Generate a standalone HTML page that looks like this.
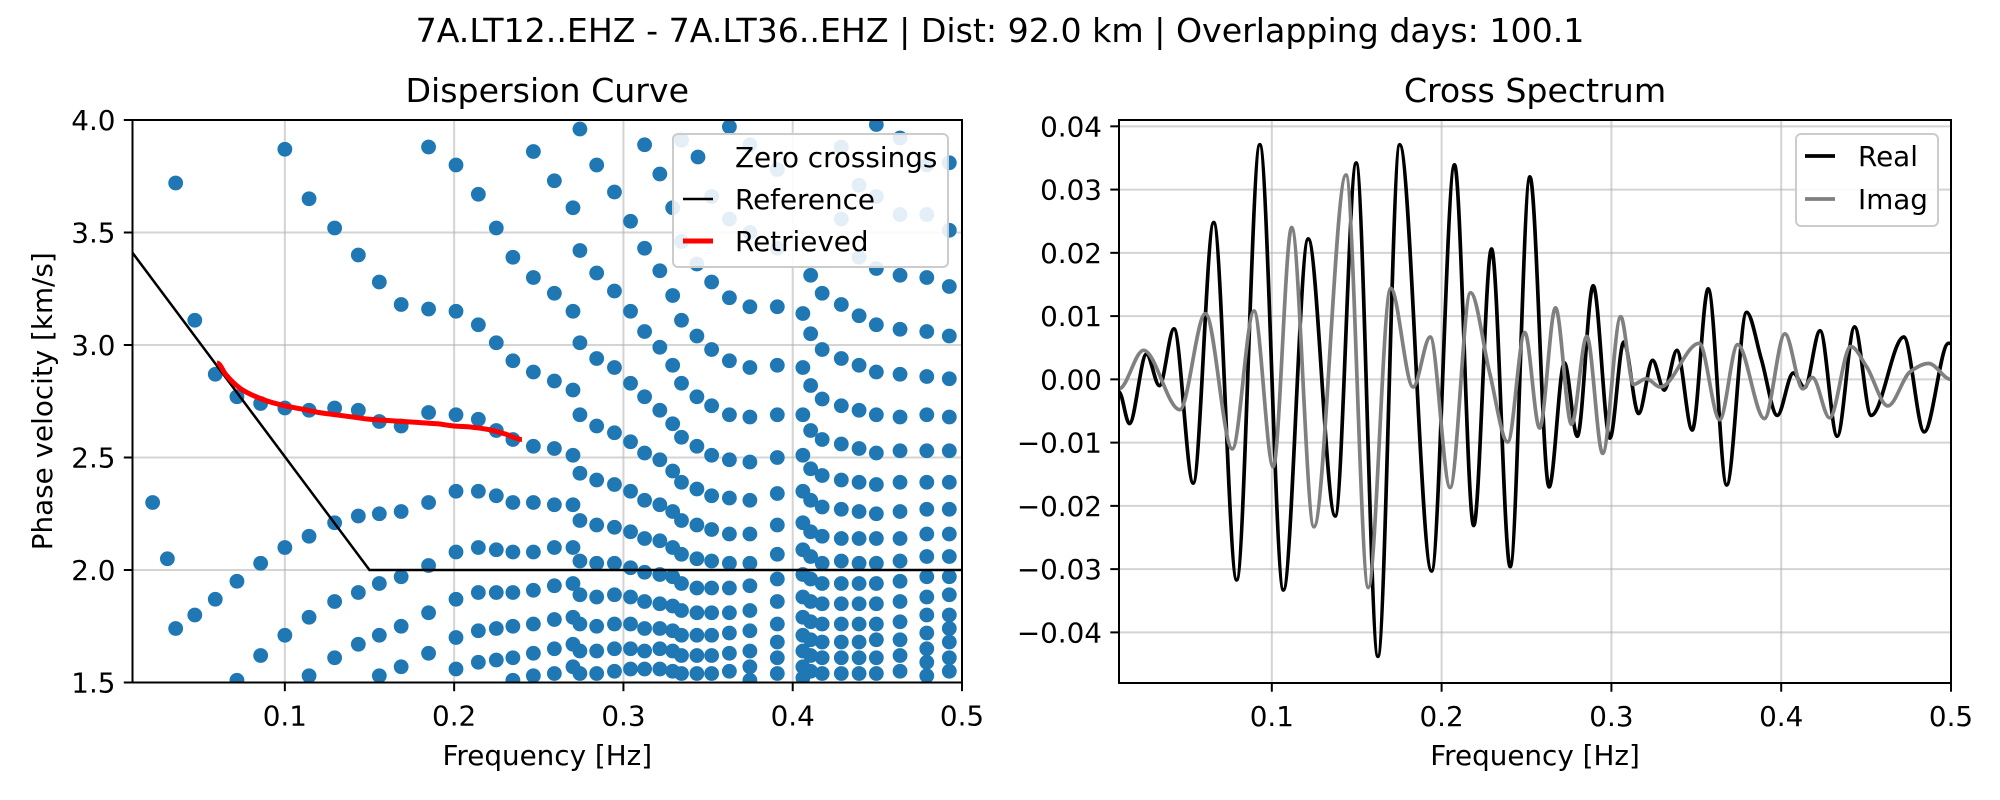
<!DOCTYPE html>
<html><head><meta charset="utf-8"><style>
html,body{margin:0;padding:0;background:#fff;}
svg{display:block;font-family:"DejaVu Sans","Liberation Sans",sans-serif;}
</style></head><body>
<svg id="fig" width="2000" height="800" viewBox="0 0 2000 800" xmlns="http://www.w3.org/2000/svg">
<rect width="2000" height="800" fill="#fff"/>
<text x="1000" y="42" font-size="33.2" text-anchor="middle">7A.LT12..EHZ - 7A.LT36..EHZ | Dist: 92.0 km | Overlapping days: 100.1</text>
<g id="left"></g>
<g id="right"></g>
</svg>
<script>
// ---------- Dispersion data ----------
const zcFreqs = [0.0219,0.0306,0.0355,0.0468,0.0589,0.0717,0.0857,0.1,0.1143,0.1294,0.1434,0.1558,0.1687,0.1849,0.2011,0.2143,0.2249,0.2347,0.2468,0.2592,0.2702,0.2743,0.2842,0.2947,0.3042,0.3125,0.3215,0.3291,0.3343,0.3434,0.3521,0.3626,0.3747,0.3909,0.4060,0.4106,0.4174,0.4287,0.4392,0.4494,0.4634,0.4792,0.4925];
const zcVels = [
[2.30],[2.05],[3.72,1.74],[3.11,1.80],[2.87,1.87],[2.77,1.95,1.51],[2.74,2.03,1.62],
[3.87,2.72,2.10,1.71],[3.65,2.71,2.15,1.79,1.53],[3.52,2.72,2.21,1.86,1.61],[3.40,2.71,2.24,1.90,1.67],
[3.28,2.66,2.25,1.94,1.71,1.53],[3.18,2.64,2.26,1.97,1.75,1.57],[3.88,3.16,2.70,2.30,2.02,1.81,1.63],
[3.80,3.15,2.69,2.35,2.08,1.87,1.70,1.56],[3.67,3.09,2.67,2.35,2.10,1.90,1.73,1.59],
[3.52,3.01,2.62,2.33,2.09,1.90,1.74,1.60],[3.39,2.93,2.58,2.30,2.08,1.90,1.75,1.61,1.51],
[3.86,3.30,2.88,2.55,2.30,2.08,1.91,1.76,1.63,1.53],[3.73,3.23,2.84,2.54,2.29,2.10,1.93,1.78,1.65,1.54],
[3.61,3.15,2.80,2.51,2.29,2.10,1.94,1.79,1.67,1.57],[3.96,3.42,3.01,2.69,2.43,2.22,2.04,1.89,1.76,1.64,1.54],
[3.80,3.32,2.94,2.64,2.40,2.20,2.03,1.88,1.75,1.64,1.54],[3.68,3.24,2.90,2.61,2.38,2.19,2.03,1.89,1.76,1.65,1.55],
[3.55,3.15,2.83,2.57,2.35,2.17,2.01,1.88,1.76,1.65,1.56],[3.89,3.43,3.06,2.77,2.52,2.31,2.14,1.99,1.86,1.74,1.64,1.56],
[3.76,3.33,2.99,2.71,2.49,2.29,2.13,1.98,1.85,1.74,1.65,1.56],[3.61,3.22,2.91,2.65,2.44,2.26,2.10,1.97,1.84,1.73,1.64,1.55],
[3.91,3.46,3.11,2.83,2.59,2.39,2.22,2.07,1.94,1.82,1.71,1.62,1.54],[3.36,3.04,2.77,2.55,2.36,2.20,2.05,1.92,1.81,1.71,1.62,1.54],
[3.66,3.28,2.98,2.73,2.51,2.33,2.18,2.04,1.92,1.81,1.71,1.62,1.54],[3.97,3.56,3.21,2.93,2.69,2.49,2.32,2.16,2.03,1.92,1.81,1.72,1.63,1.55],
[3.89,3.50,3.17,2.90,2.68,2.48,2.31,2.16,2.03,1.93,1.82,1.73,1.64,1.57,1.51],[3.78,3.43,3.17,2.91,2.69,2.50,2.34,2.20,2.07,1.96,1.86,1.76,1.68,1.61,1.54],
[3.14,2.90,2.69,2.51,2.35,2.21,2.09,1.98,1.88,1.79,1.71,1.64,1.57,1.52],[3.31,3.05,2.82,2.62,2.45,2.31,2.17,2.06,1.96,1.86,1.77,1.69,1.62,1.55],
[3.23,2.98,2.76,2.58,2.42,2.28,2.15,2.03,1.94,1.85,1.76,1.68,1.61,1.54],[3.88,3.56,3.18,2.94,2.73,2.56,2.40,2.27,2.14,2.04,1.94,1.85,1.76,1.68,1.61,1.54],
[3.71,3.39,3.13,2.91,2.71,2.54,2.39,2.26,2.14,2.03,1.94,1.85,1.76,1.68,1.61,1.54],[3.98,3.66,3.34,3.09,2.88,2.69,2.52,2.38,2.25,2.14,2.03,1.94,1.85,1.76,1.69,1.61,1.54],
[3.92,3.58,3.31,3.07,2.87,2.68,2.53,2.39,2.26,2.14,2.04,1.95,1.86,1.77,1.69,1.62,1.55],[3.80,3.58,3.30,3.06,2.86,2.69,2.53,2.39,2.27,2.16,2.06,1.97,1.88,1.80,1.72,1.65,1.59,1.53],
[3.81,3.51,3.26,3.04,2.85,2.68,2.53,2.39,2.27,2.16,2.06,1.97,1.89,1.80,1.74,1.68,1.61,1.55]];
const refFreqs = [0.01, 0.15, 0.5];
const refVels = [3.41, 2.0, 2.0];
const retFreqs = [0.060,0.065,0.070,0.075,0.080,0.090,0.100,0.110,0.120,0.130,0.140,0.150,0.160,0.170,0.180,0.190,0.200,0.210,0.220,0.230,0.240];
const retVels = [2.92,2.87,2.83,2.80,2.78,2.75,2.73,2.715,2.70,2.69,2.68,2.67,2.665,2.66,2.655,2.65,2.64,2.635,2.625,2.605,2.58];
const leftXTicks = [0.1,0.2,0.3,0.4,0.5];
const leftXTickLabels = ["0.1","0.2","0.3","0.4","0.5"];
const leftYTicks = [1.5,2.0,2.5,3.0,3.5,4.0];
const leftYTickLabels = ["1.5","2.0","2.5","3.0","3.5","4.0"];

// ---------- Cross spectrum data ----------
const realFreqs = [0.01,0.0161,0.0262,0.0338,0.0424,0.0537,0.0658,0.0793,0.0929,0.1068,0.1214,0.1373,0.1497,0.1625,0.1753,0.1941,0.2076,0.2189,0.2294,0.2404,0.2520,0.2633,0.2723,0.2799,0.2893,0.2991,0.3073,0.3160,0.3243,0.3311,0.3386,0.3476,0.3570,0.3679,0.3796,0.3883,0.3977,0.4071,0.4138,0.4229,0.4330,0.4432,0.4530,0.4722,0.4842,0.4985,0.5];
const realVals = [-0.002,-0.007,0.004,-0.001,0.008,-0.0164,0.0248,-0.0317,0.0371,-0.0333,0.0222,-0.0216,0.0342,-0.0438,0.0371,-0.0303,0.0339,-0.0231,0.0206,-0.0296,0.032,-0.017,0.0026,-0.009,0.0148,-0.0093,0.0059,-0.0054,0.003,-0.0017,0.0046,-0.008,0.0143,-0.0167,0.0106,0.0032,-0.0057,0.001,-0.0013,0.0077,-0.009,0.0083,-0.0057,0.0067,-0.0083,0.0057,0.0057];
const imagFreqs = [0.01,0.0244,0.0458,0.0609,0.0767,0.0895,0.1008,0.1117,0.1248,0.1437,0.1568,0.1700,0.1832,0.1933,0.2050,0.2170,0.2283,0.2389,0.2490,0.2577,0.2671,0.2765,0.2855,0.2949,0.3055,0.3130,0.3205,0.3288,0.3517,0.3638,0.3743,0.3901,0.4022,0.4127,0.4184,0.4285,0.4409,0.4503,0.4628,0.4759,0.4868,0.5];
const imagVals = [-0.0015,0.0046,-0.0048,0.0104,-0.011,0.0108,-0.0138,0.024,-0.0233,0.0323,-0.0329,0.0144,-0.0012,0.0067,-0.0171,0.0137,0.001,-0.0099,0.0074,-0.0077,0.0113,-0.0071,0.0068,-0.0117,0.0099,-0.0008,0.0001,-0.0012,0.0057,-0.0064,0.0055,-0.0062,0.0072,-0.0015,0.0003,-0.0061,0.0052,0.0020,-0.0042,0.0012,0.0025,0.0];
const rightXTicks = [0.1,0.2,0.3,0.4,0.5];
const rightXTickLabels = ["0.1","0.2","0.3","0.4","0.5"];
const rightYTicks = [-0.04,-0.03,-0.02,-0.01,0,0.01,0.02,0.03,0.04];
const rightYTickLabels = ["\u22120.04","\u22120.03","\u22120.02","\u22120.01","0.00","0.01","0.02","0.03","0.04"];

const NS = "http://www.w3.org/2000/svg";
const FS = 27.8, TFS = 33.2;
function mk(parent, tag, attrs, text) {
  const e = document.createElementNS(NS, tag);
  for (const k in attrs) e.setAttribute(k, attrs[k]);
  if (text !== undefined) e.textContent = text;
  parent.appendChild(e);
  return e;
}
function lin(d0, d1, r0, r1) { return v => r0 + (v - d0) / (d1 - d0) * (r1 - r0); }

function smoothPath(fx, fy, xs, ys) {
  const n = fx.length, X = fx.map(xs), Y = fy.map(ys), m = [];
  for (let i = 0; i < n; i++) {
    if (i === 0 || i === n-1) { m.push(0); continue; }
    const d0 = (Y[i]-Y[i-1])/(X[i]-X[i-1]), d1 = (Y[i+1]-Y[i])/(X[i+1]-X[i]);
    m.push(d0*d1 <= 0 ? 0 : 2/(1/d0+1/d1));
  }
  let d = "M" + X[0].toFixed(1) + "," + Y[0].toFixed(1);
  for (let i = 0; i < n-1; i++) {
    const h = (X[i+1]-X[i])/3;
    d += " C" + (X[i]+h).toFixed(1) + "," + (Y[i]+m[i]*h).toFixed(1) + " " + (X[i+1]-h).toFixed(1) + "," + (Y[i+1]-m[i+1]*h).toFixed(1) + " " + X[i+1].toFixed(1) + "," + Y[i+1].toFixed(1);
  }
  return d;
}

function axesFrame(g, L, R, T, B, xs, ys, xt, yt, prefix) {
  for (let i = 0; i < xt.length; i++) {
    const x = xs(xt[i]);
    const gl = mk(g, "line", {x1:x, x2:x, y1:T, y2:B, stroke:"#b0b0b0", "stroke-opacity":"0.55", "stroke-width":2});
    
    
  }
  for (let i = 0; i < yt.length; i++) {
    const y = ys(yt[i]);
    const gl = mk(g, "line", {x1:L, x2:R, y1:y, y2:y, stroke:"#b0b0b0", "stroke-opacity":"0.55", "stroke-width":2});
    
    
  }
}
function axesDecor(g, L, R, T, B, xs, ys, xt, xtl, yt, ytl, titleText, xlabel, ylabel, prefix, ylabX) {
  const fr = mk(g, "rect", {x:L, y:T, width:R-L, height:B-T, fill:"none", stroke:"#000", "stroke-width":2});
  
  
  for (let i = 0; i < xt.length; i++) {
    const x = xs(xt[i]);
    const tk = mk(g, "line", {x1:x, x2:x, y1:B, y2:B+8.7, stroke:"#000", "stroke-width":2});
    
    
    const tl = mk(g, "text", {x:x, y:B+43, "font-size":FS, "text-anchor":"middle"}, xtl[i]);
    
    
  }
  for (let i = 0; i < yt.length; i++) {
    const y = ys(yt[i]);
    const tk = mk(g, "line", {x1:L-8.7, x2:L, y1:y, y2:y, stroke:"#000", "stroke-width":2});
    
    
    const tl = mk(g, "text", {x:L-17, y:y+10, "font-size":FS, "text-anchor":"end"}, ytl[i]);
    
    
  }
  const t = mk(g, "text", {x:(L+R)/2, y:102, "font-size":TFS, "text-anchor":"middle"}, titleText);
  
  
  const xl = mk(g, "text", {x:(L+R)/2, y:765, "font-size":FS, "text-anchor":"middle"}, xlabel);
  
  
  if (ylabel) {
    const cy = (T+B)/2;
    const yl = mk(g, "text", {x:ylabX, y:cy, "font-size":FS, "text-anchor":"middle", transform:"rotate(-90 "+ylabX+" "+cy+")"}, ylabel);
    
    
  }
}

// ---------- Left panel ----------
(function(){
  const g = document.getElementById("left");
  const L = 132.5, R = 962, T = 120, B = 682.5;
  const xs = lin(0.01, 0.5, L, R), ys = lin(1.5, 4.0, B, T);
  axesFrame(g, L, R, T, B, xs, ys, leftXTicks, leftYTicks, "disp");
  const clip = mk(g, "clipPath", {id:"clipL"});
  mk(clip, "rect", {x:L, y:T, width:R-L, height:B-T});
  const dots = mk(g, "g", {"clip-path":"url(#clipL)"});
  
  
  for (let i = 0; i < zcFreqs.length; i++) {
    for (let j = 0; j < zcVels[i].length; j++) {
      const c = mk(dots, "circle", {cx:xs(zcFreqs[i]), cy:ys(zcVels[i][j]), r:7.4, fill:"#1f77b4"});
      
      
    }
  }
  const ref = mk(g, "polyline", {points: refFreqs.map((f,i)=>xs(f)+","+ys(refVels[i])).join(" "), fill:"none", stroke:"#000", "stroke-width":2.5, "clip-path":"url(#clipL)"});
  
  
  const ret = mk(g, "path", {d: smoothPath(retFreqs, retVels, xs, ys), fill:"none", stroke:"#ff0000", "stroke-width":5, "stroke-linecap":"butt"});
  
  
  axesDecor(g, L, R, T, B, xs, ys, leftXTicks, leftXTickLabels, leftYTicks, leftYTickLabels, "Dispersion Curve", "Frequency [Hz]", "Phase velocity [km/s]", "disp", 52);
  const lg = mk(g, "g", {});
  
  
  mk(lg, "rect", {x:673, y:134, width:275, height:133, rx:5, fill:"#fff", "fill-opacity":"0.88", stroke:"#cccccc", "stroke-width":2});
  const m = mk(lg, "circle", {cx:698, cy:157, r:7.4, fill:"#1f77b4"});
  
  
  const t1 = mk(lg, "text", {x:735, y:167, "font-size":FS}, "Zero crossings");
  
  
  const l2 = mk(lg, "line", {x1:683, x2:713, y1:199, y2:199, stroke:"#000", "stroke-width":2.5});
  
  
  const t2 = mk(lg, "text", {x:735, y:209, "font-size":FS}, "Reference");
  
  
  const l3 = mk(lg, "line", {x1:683, x2:713, y1:241, y2:241, stroke:"#ff0000", "stroke-width":5});
  
  
  const t3 = mk(lg, "text", {x:735, y:251, "font-size":FS}, "Retrieved");
  
  
})();

// ---------- Right panel ----------
(function(){
  const g = document.getElementById("right");
  const L = 1119, R = 1951, T = 120, B = 683;
  const xs = lin(0.01, 0.5, L, R), ys = lin(-0.048, 0.041, B, T);
  axesFrame(g, L, R, T, B, xs, ys, rightXTicks, rightYTicks, "spec");
  const clip = mk(g, "clipPath", {id:"clipR"});
  mk(clip, "rect", {x:L, y:T, width:R-L, height:B-T});
  const re = mk(g, "path", {d:smoothPath(realFreqs, realVals, xs, ys), fill:"none", stroke:"#000", "stroke-width":3.7, "clip-path":"url(#clipR)"});
  
  
  const im = mk(g, "path", {d:smoothPath(imagFreqs, imagVals, xs, ys), fill:"none", stroke:"#808080", "stroke-width":3.7, "clip-path":"url(#clipR)"});
  
  
  axesDecor(g, L, R, T, B, xs, ys, rightXTicks, rightXTickLabels, rightYTicks, rightYTickLabels, "Cross Spectrum", "Frequency [Hz]", "", "spec", 0);
  const lg = mk(g, "g", {});
  
  
  mk(lg, "rect", {x:1796, y:134, width:142, height:92, rx:5, fill:"#fff", "fill-opacity":"0.88", stroke:"#cccccc", "stroke-width":2});
  const l1 = mk(lg, "line", {x1:1805, x2:1835, y1:156, y2:156, stroke:"#000", "stroke-width":3.7});
  
  
  const t1 = mk(lg, "text", {x:1858, y:166, "font-size":FS}, "Real");
  
  
  const l2 = mk(lg, "line", {x1:1805, x2:1835, y1:199, y2:199, stroke:"#808080", "stroke-width":3.7});
  
  
  const t2 = mk(lg, "text", {x:1858, y:209, "font-size":FS}, "Imag");
  
  
})();
</script>
</body></html>
